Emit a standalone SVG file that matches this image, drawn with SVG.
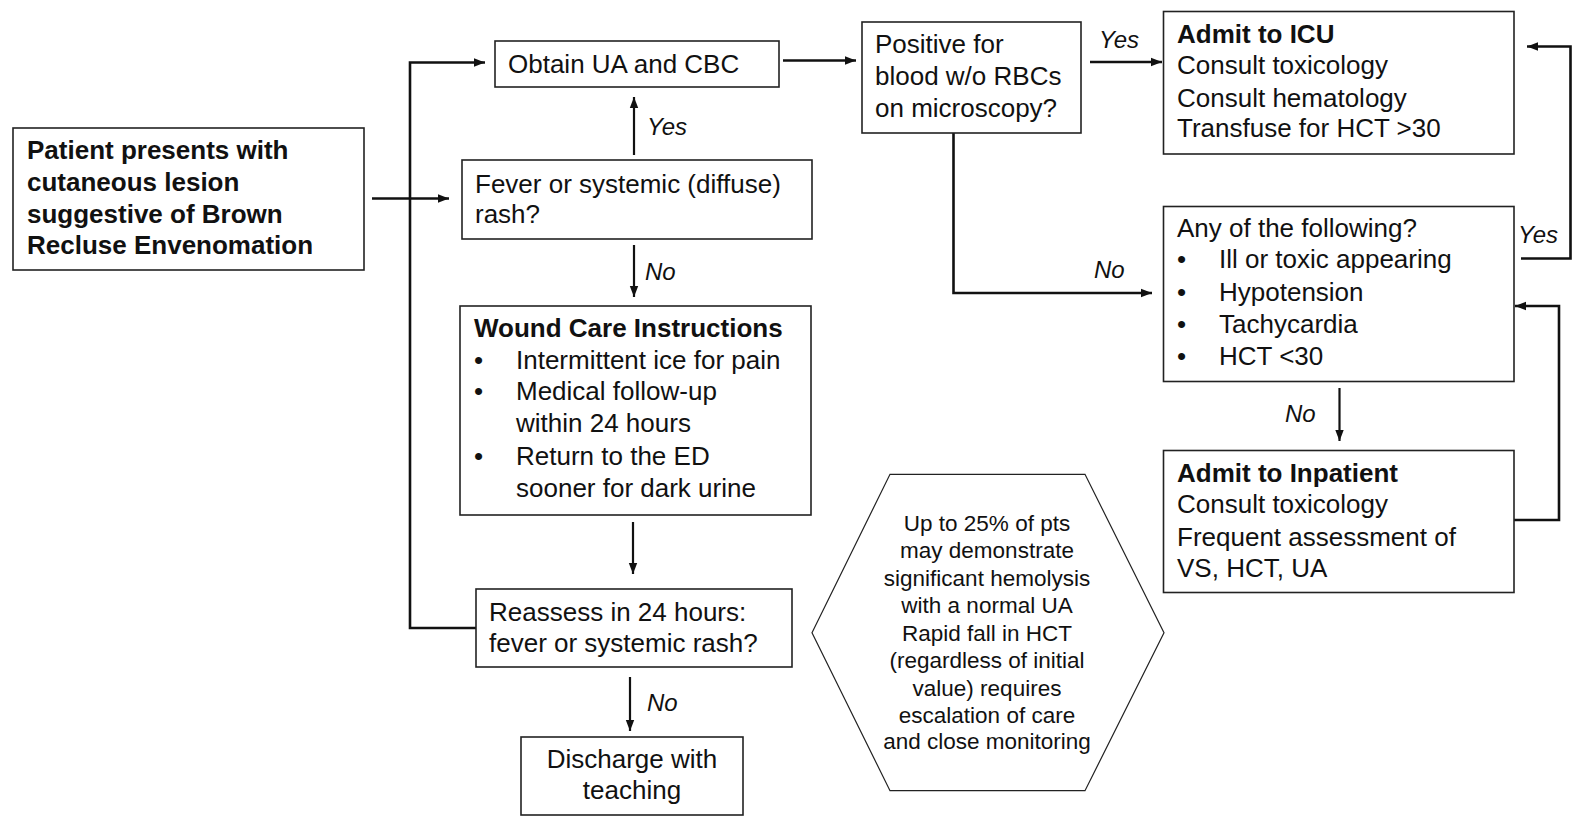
<svg xmlns="http://www.w3.org/2000/svg" width="1584" height="832" viewBox="0 0 1584 832">
<defs>
<marker id="ah" markerUnits="userSpaceOnUse" markerWidth="12" markerHeight="10" refX="11" refY="5" orient="auto">
<path d="M0,0.8 L11,5 L0,9.2 z" fill="#111"/>
</marker>
<style>
.box{fill:#fff;stroke:#222;stroke-width:1.6}
.hex{fill:#fff;stroke:#222;stroke-width:1.2}
.t{font-family:"Liberation Sans",Arial,sans-serif;font-size:26px;fill:#111}
.b{font-weight:bold}
.h{font-family:"Liberation Sans",Arial,sans-serif;font-size:22.5px;fill:#111;text-anchor:middle}
.lbl{font-family:"Liberation Sans",Arial,sans-serif;font-size:24px;font-style:italic;fill:#111}
.c{fill:none;stroke:#111;stroke-width:2.6;marker-end:url(#ah)}
.cn{fill:none;stroke:#111;stroke-width:2.6}
.c2{fill:none;stroke:#111;stroke-width:2.2;marker-end:url(#ah)}
</style>
</defs>
<rect width="1584" height="832" fill="#fff"/>

<g id="connectors">
<path class="c" d="M372,198.5 H449"/>
<path class="c" d="M476,628 H410 V62.5 H485"/>
<path class="c2" d="M634,155 V97"/>
<path class="c2" d="M634,245 V297"/>
<path class="c2" d="M633,522 V574"/>
<path class="c2" d="M630,677 V731"/>
<path class="c" d="M783,60.5 H856"/>
<path class="c" d="M1090,62 H1162"/>
<path class="c" d="M953.5,133 V293 H1152"/>
<path class="c" d="M1521,258.5 H1570.5 V46.5 H1527"/>
<path class="c2" d="M1339.5,388 V441"/>
<path class="c" d="M1514,520 H1559 V306 H1515"/>
<text class="lbl" x="647" y="135">Yes</text>
<text class="lbl" x="645" y="280">No</text>
<text class="lbl" x="1099" y="48">Yes</text>
<text class="lbl" x="1094" y="278">No</text>
<text class="lbl" x="1518" y="243">Yes</text>
<text class="lbl" x="1285" y="422">No</text>
<text class="lbl" x="647" y="711">No</text>
</g>

<g id="patient">
<rect class="box" x="13" y="128" width="351" height="142"/>
<text class="t b" x="27" y="159">Patient presents with</text>
<text class="t b" x="27" y="191">cutaneous lesion</text>
<text class="t b" x="27" y="223">suggestive of Brown</text>
<text class="t b" x="27" y="254">Recluse Envenomation</text>
</g>

<g id="obtain">
<rect class="box" x="495" y="41" width="284" height="46"/>
<text class="t" x="508" y="73">Obtain UA and CBC</text>
</g>

<g id="fever">
<rect class="box" x="462" y="160" width="350" height="79"/>
<text class="t" x="475" y="193">Fever or systemic (diffuse)</text>
<text class="t" x="475" y="223">rash?</text>
</g>

<g id="wound">
<rect class="box" x="460" y="306" width="351" height="209"/>
<text class="t b" x="474" y="337">Wound Care Instructions</text>
<text class="t" x="474" y="369">•</text>
<text class="t" x="516" y="369">Intermittent ice for pain</text>
<text class="t" x="474" y="400">•</text>
<text class="t" x="516" y="400">Medical follow-up</text>
<text class="t" x="516" y="432">within 24 hours</text>
<text class="t" x="474" y="465">•</text>
<text class="t" x="516" y="465">Return to the ED</text>
<text class="t" x="516" y="497">sooner for dark urine</text>
</g>

<g id="reassess">
<rect class="box" x="476" y="589" width="316" height="78"/>
<text class="t" x="489" y="621">Reassess in 24 hours:</text>
<text class="t" x="489" y="652">fever or systemic rash?</text>
</g>

<g id="discharge">
<rect class="box" x="521" y="737" width="222" height="78"/>
<text class="t" x="632" y="768" text-anchor="middle">Discharge with</text>
<text class="t" x="632" y="799" text-anchor="middle">teaching</text>
</g>

<g id="positive">
<rect class="box" x="862" y="22" width="219" height="111"/>
<text class="t" x="875" y="53">Positive for</text>
<text class="t" x="875" y="85">blood w/o RBCs</text>
<text class="t" x="875" y="117">on microscopy?</text>
</g>

<g id="icu">
<rect class="box" x="1163.5" y="11.5" width="350.5" height="142.5"/>
<text class="t b" x="1177" y="43">Admit to ICU</text>
<text class="t" x="1177" y="74">Consult toxicology</text>
<text class="t" x="1177" y="107">Consult hematology</text>
<text class="t" x="1177" y="137">Transfuse for HCT &gt;30</text>
</g>

<g id="anyof">
<rect class="box" x="1163.5" y="206.5" width="350.5" height="175"/>
<text class="t" x="1177" y="237">Any of the following?</text>
<text class="t" x="1177" y="268">•</text>
<text class="t" x="1219" y="268">Ill or toxic appearing</text>
<text class="t" x="1177" y="301">•</text>
<text class="t" x="1219" y="301">Hypotension</text>
<text class="t" x="1177" y="333">•</text>
<text class="t" x="1219" y="333">Tachycardia</text>
<text class="t" x="1177" y="365">•</text>
<text class="t" x="1219" y="365">HCT &lt;30</text>
</g>

<g id="inpatient">
<rect class="box" x="1163.5" y="450.5" width="350.5" height="142"/>
<text class="t b" x="1177" y="482">Admit to Inpatient</text>
<text class="t" x="1177" y="513">Consult toxicology</text>
<text class="t" x="1177" y="546">Frequent assessment of</text>
<text class="t" x="1177" y="577">VS, HCT, UA</text>
</g>

<g id="note">
<polygon class="hex" points="812,632.7 890,474.3 1085,474.3 1164,632.7 1085,790.7 890,790.7"/>
<text class="h" x="987" y="531">Up to 25% of pts</text>
<text class="h" x="987" y="558">may demonstrate</text>
<text class="h" x="987" y="586">significant hemolysis</text>
<text class="h" x="987" y="613">with a normal UA</text>
<text class="h" x="987" y="641">Rapid fall in HCT</text>
<text class="h" x="987" y="668">(regardless of initial</text>
<text class="h" x="987" y="696">value) requires</text>
<text class="h" x="987" y="723">escalation of care</text>
<text class="h" x="987" y="749">and close monitoring</text>
</g>
</svg>
